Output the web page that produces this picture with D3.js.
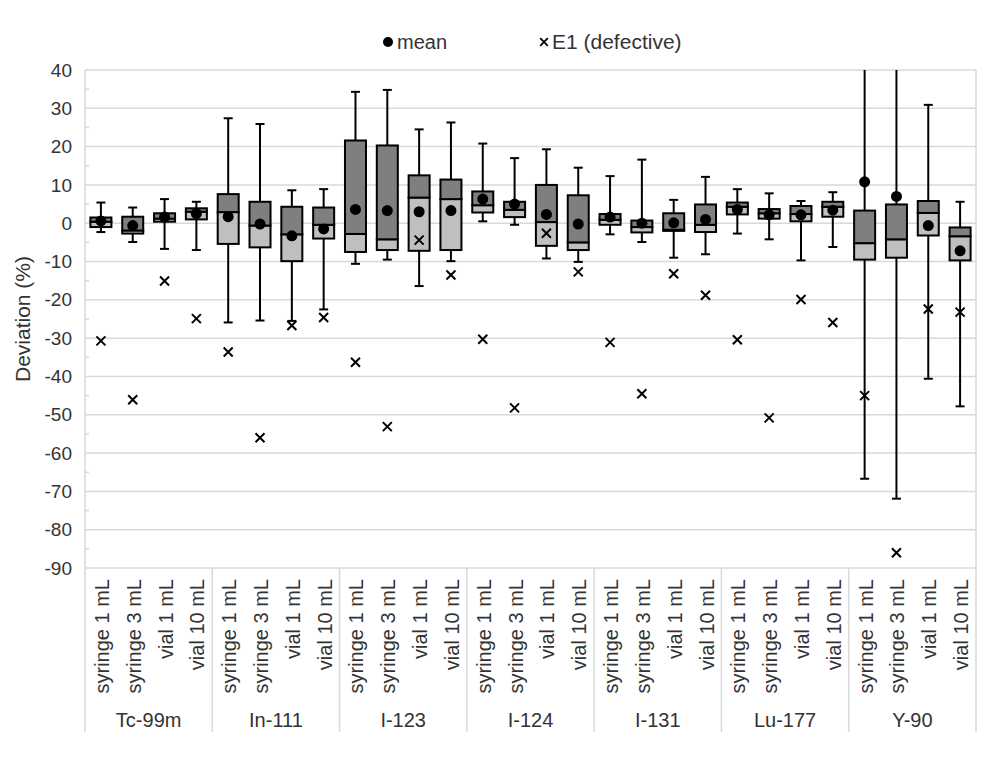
<!DOCTYPE html>
<html>
<head>
<meta charset="utf-8">
<script src="https://cdn.jsdelivr.net/npm/d3@7"></script>
<style>
  body { margin: 0; background: #fff; }
  text { font-family: "Liberation Sans", Arial, sans-serif; fill: #333; }
</style>
</head>
<body>
<svg width="991" height="775"></svg>
<script>
const svg = d3.select("svg");

// --- DATA ---
const groups = ["Tc-99m", "In-111", "I-123", "I-124", "I-131", "Lu-177", "Y-90"];
const containers = ["syringe 1 mL", "syringe 3 mL", "vial 1 mL", "vial 10 mL"];

// one value per group x container, in order
const maxVals = [5.4, 4.1, 6.3, 5.6, 27.4, 25.9, 8.6, 8.9, 34.3, 34.8, 24.5, 26.3, 20.8, 17.0,
  19.3, 14.5, 12.3, 16.6, 6.1, 12.1, 8.9, 7.8, 5.8, 8.1, 48, 50, 30.9, 5.6];
const q3Vals = [1.5, 1.7, 2.6, 3.9, 7.6, 5.6, 4.3, 4.1, 21.6, 20.3, 12.5, 11.4, 8.3, 5.6,
  10.0, 7.3, 2.4, 0.7, 2.6, 4.9, 5.4, 3.7, 4.5, 5.6, 3.3, 4.9, 5.8, -1.1];
const medianVals = [0.4, -1.9, 1.2, 3.0, 2.9, -0.6, -2.9, -0.4, -2.8, -4.2, 6.7, 6.3, 4.7, 3.5,
  0.3, -5.0, 0.9, -1.0, -1.7, -0.4, 4.3, 2.6, 2.4, 4.3, -5.2, -4.2, 2.7, -3.4];
const q1Vals = [-1.0, -2.7, 0.4, 1.0, -5.4, -6.3, -9.9, -4.0, -7.5, -7.0, -7.2, -7.0, 2.8, 1.6,
  -5.9, -7.0, -0.4, -2.4, -2.0, -2.3, 2.3, 1.2, 0.5, 1.7, -9.5, -9.0, -3.2, -9.7];
const minVals = [-2.3, -4.9, -6.7, -7.0, -25.9, -25.4, -25.5, -22.5, -10.6, -9.5, -16.4, -9.9, 0.5, -0.4,
  -9.2, -10.1, -2.9, -4.9, -9.0, -8.1, -2.7, -4.2, -9.7, -6.2, -66.7, -71.9, -40.6, -47.8];
const meanVals = [0.6, -0.6, 1.6, 2.5, 1.7, -0.2, -3.3, -1.5, 3.6, 3.3, 3.0, 3.3, 6.3, 5.0,
  2.3, -0.2, 1.6, 0.0, 0.1, 1.0, 3.6, 2.2, 2.2, 3.4, 10.8, 7.0, -0.6, -7.2];
const e1Vals = [-30.7, -46.1, -15.1, -24.9, -33.6, -56.0, -26.7, -24.6, -36.3, -53.1, -4.4, -13.5, -30.3, -48.2,
  -2.6, -12.7, -31.1, -44.5, -13.2, -18.8, -30.4, -50.8, -19.9, -25.9, -45.0, -86.0, -22.4, -23.2];

const yTicks = d3.range(-90, 41, 10);

// --- BUILD ROWS ---
const rows = [];
groups.forEach((g, gi) => {
  containers.forEach((c, ci) => {
    const i = gi * containers.length + ci;
    rows.push({
      key: g + "|" + c, group: g, container: c,
      max: maxVals[i], q3: q3Vals[i], median: medianVals[i], q1: q1Vals[i],
      min: minVals[i], mean: meanVals[i], e1: e1Vals[i]
    });
  });
});

// --- SCALES ---
const plotL = 85, plotR = 976, plotT = 70, plotB = 568;
const x = d3.scaleBand().domain(rows.map(d => d.key)).range([plotL, plotR]).padding(0);
const xg = d3.scaleBand().domain(groups).range([plotL, plotR]).padding(0);
const y = d3.scaleLinear().domain([-90, 40]).range([plotB, plotT]);

const grid = "#d9d9d9";
const boxW = 21, capW = 9;

svg.append("defs").append("clipPath").attr("id", "plotClip")
  .append("rect").attr("x", plotL).attr("y", plotT).attr("width", plotR - plotL).attr("height", plotB - plotT);

// --- GRIDLINES ---
svg.append("g").selectAll("line")
  .data(yTicks)
  .enter().append("line")
  .attr("x1", plotL).attr("x2", plotR)
  .attr("y1", d => y(d)).attr("y2", d => y(d))
  .attr("stroke", grid).attr("stroke-width", 1.5);

// minor ticks
svg.append("g").selectAll("line")
  .data(d3.range(-85, 40, 10))
  .enter().append("line")
  .attr("x1", plotL).attr("x2", plotL + 4)
  .attr("y1", d => y(d)).attr("y2", d => y(d))
  .attr("stroke", grid).attr("stroke-width", 1.5);

// left axis, right border and group separators run down into the label area
const sepX = groups.map(g => xg(g)).concat([plotR]);
svg.append("g").selectAll("line")
  .data(sepX)
  .enter().append("line")
  .attr("x1", d => d).attr("x2", d => d)
  .attr("y1", (d, i) => (i === 0 || i === sepX.length - 1) ? plotT : plotB)
  .attr("y2", 732)
  .attr("stroke", grid).attr("stroke-width", 1.5);

// --- Y AXIS LABELS ---
svg.append("g").selectAll("text")
  .data(yTicks)
  .enter().append("text")
  .attr("x", 72).attr("y", d => y(d))
  .attr("dy", "0.35em")
  .attr("text-anchor", "end")
  .style("font-size", "19px")
  .text(d => d);

svg.append("text")
  .attr("transform", `translate(30,${(plotT + plotB) / 2}) rotate(-90)`)
  .attr("text-anchor", "middle")
  .style("font-size", "21px")
  .text("Deviation (%)");

// --- CATEGORY LABELS ---
svg.append("g").selectAll("text")
  .data(rows)
  .enter().append("text")
  .attr("transform", d => `translate(${x(d.key) + x.bandwidth() / 2 + 1},579) rotate(-90)`)
  .attr("text-anchor", "end")
  .attr("dy", "0.35em")
  .style("font-size", "20px")
  .text(d => d.container);

svg.append("g").selectAll("text")
  .data(groups)
  .enter().append("text")
  .attr("x", d => xg(d) + xg.bandwidth() / 2)
  .attr("y", 727)
  .attr("text-anchor", "middle")
  .style("font-size", "20px")
  .text(d => d);

// --- BOXES ---
const plot = svg.append("g").attr("clip-path", "url(#plotClip)");
const cx = d => x(d.key) + x.bandwidth() / 2;

const box = plot.selectAll("g.box")
  .data(rows)
  .enter().append("g").attr("class", "box");

// whiskers
box.append("line")
  .attr("x1", cx).attr("x2", cx)
  .attr("y1", d => y(d.max)).attr("y2", d => y(d.q3))
  .attr("stroke", "#000").attr("stroke-width", 2);
box.append("line")
  .attr("x1", cx).attr("x2", cx)
  .attr("y1", d => y(d.q1)).attr("y2", d => y(d.min))
  .attr("stroke", "#000").attr("stroke-width", 2);
box.append("line")
  .attr("x1", d => cx(d) - capW / 2).attr("x2", d => cx(d) + capW / 2)
  .attr("y1", d => y(d.max)).attr("y2", d => y(d.max))
  .attr("stroke", "#000").attr("stroke-width", 2);
box.append("line")
  .attr("x1", d => cx(d) - capW / 2).attr("x2", d => cx(d) + capW / 2)
  .attr("y1", d => y(d.min)).attr("y2", d => y(d.min))
  .attr("stroke", "#000").attr("stroke-width", 2);

// lower part (q1..median) light, upper part (median..q3) dark
box.append("rect")
  .attr("x", d => cx(d) - boxW / 2).attr("width", boxW)
  .attr("y", d => y(d.median)).attr("height", d => y(d.q1) - y(d.median))
  .attr("fill", "#bfbfbf").attr("stroke", "#000").attr("stroke-width", 2);
box.append("rect")
  .attr("x", d => cx(d) - boxW / 2).attr("width", boxW)
  .attr("y", d => y(d.q3)).attr("height", d => y(d.median) - y(d.q3))
  .attr("fill", "#7f7f7f").attr("stroke", "#000").attr("stroke-width", 2);

// mean dots
box.append("circle")
  .attr("cx", cx).attr("cy", d => y(d.mean))
  .attr("r", 5.5).attr("fill", "#000");

// E1 crosses
const cross = s => `M${-s},${-s}L${s},${s}M${-s},${s}L${s},${-s}`;
box.append("path")
  .attr("transform", d => `translate(${cx(d)},${y(d.e1)})`)
  .attr("d", cross(4.5))
  .attr("stroke", "#000").attr("stroke-width", 2).attr("fill", "none");

// --- LEGEND ---
const legend = svg.append("g");
legend.append("circle").attr("cx", 388).attr("cy", 42).attr("r", 5).attr("fill", "#000");
legend.append("text").attr("x", 397).attr("y", 42).attr("dy", "0.35em")
  .style("font-size", "20px").text("mean");
legend.append("path").attr("transform", "translate(544,42)").attr("d", cross(3.8))
  .attr("stroke", "#000").attr("stroke-width", 1.8);
legend.append("text").attr("x", 552).attr("y", 42).attr("dy", "0.35em")
  .style("font-size", "21px").text("E1 (defective)");
</script>
</body>
</html>
